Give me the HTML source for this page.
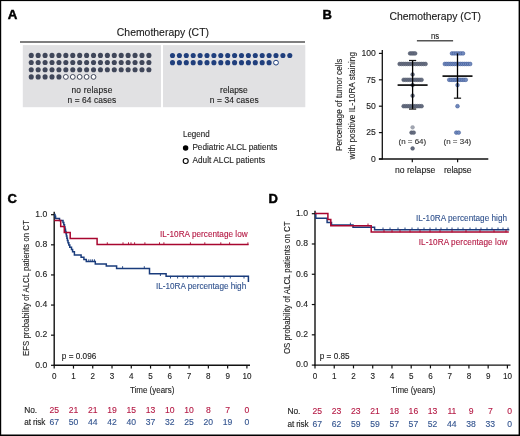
<!DOCTYPE html>
<html><head><meta charset="utf-8"><style>
html,body{margin:0;padding:0;background:#fff;}
svg{display:block;will-change:transform;}
svg text{font-family:"Liberation Sans", sans-serif;}
</style></head><body>
<svg width="520" height="436" viewBox="0 0 520 436">
<rect width="520" height="436" fill="#fff"/>
<text x="7.8" y="18.6" font-size="13.3" fill="#000" font-weight="bold" stroke="#000" stroke-width="0.45">A</text>
<text x="162.9" y="36.2" font-size="10.4" fill="#1a1a1a" text-anchor="middle" textLength="92.2" lengthAdjust="spacing" stroke="#1a1a1a" stroke-width="0.12">Chemotherapy (CT)</text>
<line x1="20" y1="42.0" x2="305" y2="42.0" stroke="#555" stroke-width="1.5"/>
<rect x="22.8" y="45.1" width="138.2" height="62.1" fill="#e1e1e3"/>
<rect x="163" y="45.1" width="142.3" height="62.1" fill="#e1e1e3"/>
<circle cx="31.25" cy="55.40" r="2.55" fill="#40475a"/>
<circle cx="38.17" cy="55.40" r="2.55" fill="#40475a"/>
<circle cx="45.09" cy="55.40" r="2.55" fill="#40475a"/>
<circle cx="52.01" cy="55.40" r="2.55" fill="#40475a"/>
<circle cx="58.93" cy="55.40" r="2.55" fill="#40475a"/>
<circle cx="65.85" cy="55.40" r="2.55" fill="#40475a"/>
<circle cx="72.77" cy="55.40" r="2.55" fill="#40475a"/>
<circle cx="79.69" cy="55.40" r="2.55" fill="#40475a"/>
<circle cx="86.61" cy="55.40" r="2.55" fill="#40475a"/>
<circle cx="93.53" cy="55.40" r="2.55" fill="#40475a"/>
<circle cx="100.45" cy="55.40" r="2.55" fill="#40475a"/>
<circle cx="107.37" cy="55.40" r="2.55" fill="#40475a"/>
<circle cx="114.29" cy="55.40" r="2.55" fill="#40475a"/>
<circle cx="121.21" cy="55.40" r="2.55" fill="#40475a"/>
<circle cx="128.13" cy="55.40" r="2.55" fill="#40475a"/>
<circle cx="135.05" cy="55.40" r="2.55" fill="#40475a"/>
<circle cx="141.97" cy="55.40" r="2.55" fill="#40475a"/>
<circle cx="148.89" cy="55.40" r="2.55" fill="#40475a"/>
<circle cx="31.25" cy="62.57" r="2.55" fill="#40475a"/>
<circle cx="38.17" cy="62.57" r="2.55" fill="#40475a"/>
<circle cx="45.09" cy="62.57" r="2.55" fill="#40475a"/>
<circle cx="52.01" cy="62.57" r="2.55" fill="#40475a"/>
<circle cx="58.93" cy="62.57" r="2.55" fill="#40475a"/>
<circle cx="65.85" cy="62.57" r="2.55" fill="#40475a"/>
<circle cx="72.77" cy="62.57" r="2.55" fill="#40475a"/>
<circle cx="79.69" cy="62.57" r="2.55" fill="#40475a"/>
<circle cx="86.61" cy="62.57" r="2.55" fill="#40475a"/>
<circle cx="93.53" cy="62.57" r="2.55" fill="#40475a"/>
<circle cx="100.45" cy="62.57" r="2.55" fill="#40475a"/>
<circle cx="107.37" cy="62.57" r="2.55" fill="#40475a"/>
<circle cx="114.29" cy="62.57" r="2.55" fill="#40475a"/>
<circle cx="121.21" cy="62.57" r="2.55" fill="#40475a"/>
<circle cx="128.13" cy="62.57" r="2.55" fill="#40475a"/>
<circle cx="135.05" cy="62.57" r="2.55" fill="#40475a"/>
<circle cx="141.97" cy="62.57" r="2.55" fill="#40475a"/>
<circle cx="148.89" cy="62.57" r="2.55" fill="#40475a"/>
<circle cx="31.25" cy="69.74" r="2.55" fill="#40475a"/>
<circle cx="38.17" cy="69.74" r="2.55" fill="#40475a"/>
<circle cx="45.09" cy="69.74" r="2.55" fill="#40475a"/>
<circle cx="52.01" cy="69.74" r="2.55" fill="#40475a"/>
<circle cx="58.93" cy="69.74" r="2.55" fill="#40475a"/>
<circle cx="65.85" cy="69.74" r="2.55" fill="#40475a"/>
<circle cx="72.77" cy="69.74" r="2.55" fill="#40475a"/>
<circle cx="79.69" cy="69.74" r="2.55" fill="#40475a"/>
<circle cx="86.61" cy="69.74" r="2.55" fill="#40475a"/>
<circle cx="93.53" cy="69.74" r="2.55" fill="#40475a"/>
<circle cx="100.45" cy="69.74" r="2.55" fill="#40475a"/>
<circle cx="107.37" cy="69.74" r="2.55" fill="#40475a"/>
<circle cx="114.29" cy="69.74" r="2.55" fill="#40475a"/>
<circle cx="121.21" cy="69.74" r="2.55" fill="#40475a"/>
<circle cx="128.13" cy="69.74" r="2.55" fill="#40475a"/>
<circle cx="135.05" cy="69.74" r="2.55" fill="#40475a"/>
<circle cx="141.97" cy="69.74" r="2.55" fill="#40475a"/>
<circle cx="148.89" cy="69.74" r="2.55" fill="#40475a"/>
<circle cx="31.25" cy="76.91" r="2.55" fill="#40475a"/>
<circle cx="38.17" cy="76.91" r="2.55" fill="#40475a"/>
<circle cx="45.09" cy="76.91" r="2.55" fill="#40475a"/>
<circle cx="52.01" cy="76.91" r="2.55" fill="#40475a"/>
<circle cx="58.93" cy="76.91" r="2.55" fill="#40475a"/>
<circle cx="65.85" cy="76.91" r="2.4" fill="#fff" stroke="#40475a" stroke-width="1.0"/>
<circle cx="72.77" cy="76.91" r="2.4" fill="#fff" stroke="#40475a" stroke-width="1.0"/>
<circle cx="79.69" cy="76.91" r="2.4" fill="#fff" stroke="#40475a" stroke-width="1.0"/>
<circle cx="86.61" cy="76.91" r="2.4" fill="#fff" stroke="#40475a" stroke-width="1.0"/>
<circle cx="93.53" cy="76.91" r="2.4" fill="#fff" stroke="#40475a" stroke-width="1.0"/>
<circle cx="172.50" cy="55.50" r="2.55" fill="#203f7d"/>
<circle cx="179.40" cy="55.50" r="2.55" fill="#203f7d"/>
<circle cx="186.30" cy="55.50" r="2.55" fill="#203f7d"/>
<circle cx="193.20" cy="55.50" r="2.55" fill="#203f7d"/>
<circle cx="200.10" cy="55.50" r="2.55" fill="#203f7d"/>
<circle cx="207.00" cy="55.50" r="2.55" fill="#203f7d"/>
<circle cx="213.90" cy="55.50" r="2.55" fill="#203f7d"/>
<circle cx="220.80" cy="55.50" r="2.55" fill="#203f7d"/>
<circle cx="227.70" cy="55.50" r="2.55" fill="#203f7d"/>
<circle cx="234.60" cy="55.50" r="2.55" fill="#203f7d"/>
<circle cx="241.50" cy="55.50" r="2.55" fill="#203f7d"/>
<circle cx="248.40" cy="55.50" r="2.55" fill="#203f7d"/>
<circle cx="255.30" cy="55.50" r="2.55" fill="#203f7d"/>
<circle cx="262.20" cy="55.50" r="2.55" fill="#203f7d"/>
<circle cx="269.10" cy="55.50" r="2.55" fill="#203f7d"/>
<circle cx="276.00" cy="55.50" r="2.55" fill="#203f7d"/>
<circle cx="282.90" cy="55.50" r="2.55" fill="#203f7d"/>
<circle cx="289.80" cy="55.50" r="2.55" fill="#203f7d"/>
<circle cx="172.50" cy="62.65" r="2.55" fill="#203f7d"/>
<circle cx="179.40" cy="62.65" r="2.55" fill="#203f7d"/>
<circle cx="186.30" cy="62.65" r="2.55" fill="#203f7d"/>
<circle cx="193.20" cy="62.65" r="2.55" fill="#203f7d"/>
<circle cx="200.10" cy="62.65" r="2.55" fill="#203f7d"/>
<circle cx="207.00" cy="62.65" r="2.55" fill="#203f7d"/>
<circle cx="213.90" cy="62.65" r="2.55" fill="#203f7d"/>
<circle cx="220.80" cy="62.65" r="2.55" fill="#203f7d"/>
<circle cx="227.70" cy="62.65" r="2.55" fill="#203f7d"/>
<circle cx="234.60" cy="62.65" r="2.55" fill="#203f7d"/>
<circle cx="241.50" cy="62.65" r="2.55" fill="#203f7d"/>
<circle cx="248.40" cy="62.65" r="2.55" fill="#203f7d"/>
<circle cx="255.30" cy="62.65" r="2.55" fill="#203f7d"/>
<circle cx="262.20" cy="62.65" r="2.55" fill="#203f7d"/>
<circle cx="269.10" cy="62.65" r="2.55" fill="#203f7d"/>
<circle cx="276.00" cy="62.65" r="2.4" fill="#fff" stroke="#203f7d" stroke-width="1.0"/>
<text x="91.9" y="93.3" font-size="8.4" fill="#222" text-anchor="middle" textLength="40.8" lengthAdjust="spacing" stroke="#222" stroke-width="0.12">no relapse</text>
<text x="91.9" y="103.3" font-size="8.4" fill="#222" text-anchor="middle" textLength="48.8" lengthAdjust="spacing" stroke="#222" stroke-width="0.12">n = 64 cases</text>
<text x="233.9" y="93.3" font-size="8.4" fill="#222" text-anchor="middle" textLength="27.6" lengthAdjust="spacing" stroke="#222" stroke-width="0.12">relapse</text>
<text x="234.2" y="103.3" font-size="8.4" fill="#222" text-anchor="middle" textLength="48.8" lengthAdjust="spacing" stroke="#222" stroke-width="0.12">n = 34 cases</text>
<text x="183" y="136.8" font-size="8.6" fill="#222" textLength="26.6" lengthAdjust="spacingAndGlyphs" stroke="#222" stroke-width="0.12">Legend</text>
<circle cx="185.6" cy="148" r="2.75" fill="#000"/>
<text x="192.4" y="150.1" font-size="8.2" fill="#222" textLength="85" lengthAdjust="spacing" stroke="#222" stroke-width="0.12">Pediatric ALCL patients</text>
<circle cx="185.7" cy="161" r="2.5" fill="#fff" stroke="#000" stroke-width="1.1"/>
<text x="192.4" y="163.1" font-size="8.2" fill="#222" textLength="72.7" lengthAdjust="spacing" stroke="#222" stroke-width="0.12">Adult ALCL patients</text>
<text x="322.4" y="18.5" font-size="13" fill="#000" font-weight="bold" stroke="#000" stroke-width="0.45">B</text>
<text x="389.6" y="19.8" font-size="10.4" fill="#1a1a1a" textLength="91.4" lengthAdjust="spacing" stroke="#1a1a1a" stroke-width="0.12">Chemotherapy (CT)</text>
<text x="435" y="38.8" font-size="8.3" fill="#222" text-anchor="middle" textLength="8.2" lengthAdjust="spacingAndGlyphs" stroke="#222" stroke-width="0.12">ns</text>
<line x1="416.9" y1="40.7" x2="453.1" y2="40.7" stroke="#555" stroke-width="1.4"/>
<line x1="382.3" y1="50.0" x2="382.3" y2="159.6" stroke="#111" stroke-width="1.3"/>
<line x1="378.9" y1="159.0" x2="488.3" y2="159.0" stroke="#111" stroke-width="1.3"/>
<line x1="378.9" y1="159.0" x2="382.3" y2="159.0" stroke="#111" stroke-width="1.2"/>
<text x="375.9" y="161.7" font-size="8.8" fill="#222" text-anchor="end" textLength="4.8" lengthAdjust="spacingAndGlyphs" stroke="#222" stroke-width="0.12">0</text>
<line x1="378.9" y1="132.6" x2="382.3" y2="132.6" stroke="#111" stroke-width="1.2"/>
<text x="375.9" y="135.29999999999998" font-size="8.8" fill="#222" text-anchor="end" textLength="9.6" lengthAdjust="spacingAndGlyphs" stroke="#222" stroke-width="0.12">25</text>
<line x1="378.9" y1="106.19999999999999" x2="382.3" y2="106.19999999999999" stroke="#111" stroke-width="1.2"/>
<text x="375.9" y="108.89999999999999" font-size="8.8" fill="#222" text-anchor="end" textLength="9.6" lengthAdjust="spacingAndGlyphs" stroke="#222" stroke-width="0.12">50</text>
<line x1="378.9" y1="79.8" x2="382.3" y2="79.8" stroke="#111" stroke-width="1.2"/>
<text x="375.9" y="82.5" font-size="8.8" fill="#222" text-anchor="end" textLength="9.6" lengthAdjust="spacingAndGlyphs" stroke="#222" stroke-width="0.12">75</text>
<line x1="378.9" y1="53.39999999999999" x2="382.3" y2="53.39999999999999" stroke="#111" stroke-width="1.2"/>
<text x="375.9" y="56.099999999999994" font-size="8.8" fill="#222" text-anchor="end" textLength="14.4" lengthAdjust="spacingAndGlyphs" stroke="#222" stroke-width="0.12">100</text>
<line x1="412.3" y1="159.0" x2="412.3" y2="162.3" stroke="#111" stroke-width="1.2"/>
<line x1="457.6" y1="159.0" x2="457.6" y2="162.3" stroke="#111" stroke-width="1.2"/>
<text x="415.1" y="172.8" font-size="8.6" fill="#222" text-anchor="middle" textLength="40.4" lengthAdjust="spacing" stroke="#222" stroke-width="0.12">no relapse</text>
<text x="457.75" y="172.8" font-size="8.6" fill="#222" text-anchor="middle" textLength="27.5" lengthAdjust="spacing" stroke="#222" stroke-width="0.12">relapse</text>
<g transform="translate(342.2,104.8) rotate(-90)">
<text x="0" y="0" font-size="9.0" fill="#222" text-anchor="middle" textLength="92.5" lengthAdjust="spacingAndGlyphs" stroke="#222" stroke-width="0.12">Percentage of tumor cells</text>
</g>
<g transform="translate(354.6,105.7) rotate(-90)">
<text x="0" y="0" font-size="9.0" fill="#222" text-anchor="middle" textLength="107.4" lengthAdjust="spacingAndGlyphs" stroke="#222" stroke-width="0.12">with positive IL-10RA staining</text>
</g>
<circle cx="410.05" cy="53.40" r="1.9" fill="#656c7f" opacity="1" stroke="#4d5467" stroke-width="0.45"/>
<circle cx="411.75" cy="53.40" r="1.9" fill="#656c7f" opacity="1" stroke="#4d5467" stroke-width="0.45"/>
<circle cx="413.45" cy="53.40" r="1.9" fill="#656c7f" opacity="1" stroke="#4d5467" stroke-width="0.45"/>
<circle cx="415.15" cy="53.40" r="1.9" fill="#656c7f" opacity="1" stroke="#4d5467" stroke-width="0.45"/>
<circle cx="399.60" cy="63.96" r="1.9" fill="#656c7f" opacity="1" stroke="#4d5467" stroke-width="0.45"/>
<circle cx="401.60" cy="63.96" r="1.9" fill="#656c7f" opacity="1" stroke="#4d5467" stroke-width="0.45"/>
<circle cx="403.60" cy="63.96" r="1.9" fill="#656c7f" opacity="1" stroke="#4d5467" stroke-width="0.45"/>
<circle cx="405.60" cy="63.96" r="1.9" fill="#656c7f" opacity="1" stroke="#4d5467" stroke-width="0.45"/>
<circle cx="407.60" cy="63.96" r="1.9" fill="#656c7f" opacity="1" stroke="#4d5467" stroke-width="0.45"/>
<circle cx="409.60" cy="63.96" r="1.9" fill="#656c7f" opacity="1" stroke="#4d5467" stroke-width="0.45"/>
<circle cx="411.60" cy="63.96" r="1.9" fill="#656c7f" opacity="1" stroke="#4d5467" stroke-width="0.45"/>
<circle cx="413.60" cy="63.96" r="1.9" fill="#656c7f" opacity="1" stroke="#4d5467" stroke-width="0.45"/>
<circle cx="415.60" cy="63.96" r="1.9" fill="#656c7f" opacity="1" stroke="#4d5467" stroke-width="0.45"/>
<circle cx="417.60" cy="63.96" r="1.9" fill="#656c7f" opacity="1" stroke="#4d5467" stroke-width="0.45"/>
<circle cx="419.60" cy="63.96" r="1.9" fill="#656c7f" opacity="1" stroke="#4d5467" stroke-width="0.45"/>
<circle cx="421.60" cy="63.96" r="1.9" fill="#656c7f" opacity="1" stroke="#4d5467" stroke-width="0.45"/>
<circle cx="423.60" cy="63.96" r="1.9" fill="#656c7f" opacity="1" stroke="#4d5467" stroke-width="0.45"/>
<circle cx="425.60" cy="63.96" r="1.9" fill="#656c7f" opacity="1" stroke="#4d5467" stroke-width="0.45"/>
<circle cx="412.60" cy="74.52" r="1.9" fill="#656c7f" opacity="1" stroke="#4d5467" stroke-width="0.45"/>
<circle cx="403.60" cy="79.80" r="1.9" fill="#656c7f" opacity="1" stroke="#4d5467" stroke-width="0.45"/>
<circle cx="405.60" cy="79.80" r="1.9" fill="#656c7f" opacity="1" stroke="#4d5467" stroke-width="0.45"/>
<circle cx="407.60" cy="79.80" r="1.9" fill="#656c7f" opacity="1" stroke="#4d5467" stroke-width="0.45"/>
<circle cx="409.60" cy="79.80" r="1.9" fill="#656c7f" opacity="1" stroke="#4d5467" stroke-width="0.45"/>
<circle cx="411.60" cy="79.80" r="1.9" fill="#656c7f" opacity="1" stroke="#4d5467" stroke-width="0.45"/>
<circle cx="413.60" cy="79.80" r="1.9" fill="#656c7f" opacity="1" stroke="#4d5467" stroke-width="0.45"/>
<circle cx="415.60" cy="79.80" r="1.9" fill="#656c7f" opacity="1" stroke="#4d5467" stroke-width="0.45"/>
<circle cx="417.60" cy="79.80" r="1.9" fill="#656c7f" opacity="1" stroke="#4d5467" stroke-width="0.45"/>
<circle cx="419.60" cy="79.80" r="1.9" fill="#656c7f" opacity="1" stroke="#4d5467" stroke-width="0.45"/>
<circle cx="421.60" cy="79.80" r="1.9" fill="#656c7f" opacity="1" stroke="#4d5467" stroke-width="0.45"/>
<circle cx="412.60" cy="85.08" r="1.9" fill="#656c7f" opacity="1" stroke="#4d5467" stroke-width="0.45"/>
<circle cx="412.60" cy="95.64" r="1.9" fill="#656c7f" opacity="1" stroke="#4d5467" stroke-width="0.45"/>
<circle cx="403.60" cy="106.20" r="1.9" fill="#656c7f" opacity="1" stroke="#4d5467" stroke-width="0.45"/>
<circle cx="405.60" cy="106.20" r="1.9" fill="#656c7f" opacity="1" stroke="#4d5467" stroke-width="0.45"/>
<circle cx="407.60" cy="106.20" r="1.9" fill="#656c7f" opacity="1" stroke="#4d5467" stroke-width="0.45"/>
<circle cx="409.60" cy="106.20" r="1.9" fill="#656c7f" opacity="1" stroke="#4d5467" stroke-width="0.45"/>
<circle cx="411.60" cy="106.20" r="1.9" fill="#656c7f" opacity="1" stroke="#4d5467" stroke-width="0.45"/>
<circle cx="413.60" cy="106.20" r="1.9" fill="#656c7f" opacity="1" stroke="#4d5467" stroke-width="0.45"/>
<circle cx="415.60" cy="106.20" r="1.9" fill="#656c7f" opacity="1" stroke="#4d5467" stroke-width="0.45"/>
<circle cx="417.60" cy="106.20" r="1.9" fill="#656c7f" opacity="1" stroke="#4d5467" stroke-width="0.45"/>
<circle cx="419.60" cy="106.20" r="1.9" fill="#656c7f" opacity="1" stroke="#4d5467" stroke-width="0.45"/>
<circle cx="421.60" cy="106.20" r="1.9" fill="#656c7f" opacity="1" stroke="#4d5467" stroke-width="0.45"/>
<circle cx="412.60" cy="127.32" r="1.9" fill="#656c7f" opacity="0.6" stroke="#4d5467" stroke-width="0.45"/>
<circle cx="411.50" cy="132.60" r="1.9" fill="#656c7f" opacity="1" stroke="#4d5467" stroke-width="0.45"/>
<circle cx="413.70" cy="132.60" r="1.9" fill="#656c7f" opacity="1" stroke="#4d5467" stroke-width="0.45"/>
<circle cx="412.60" cy="148.44" r="1.9" fill="#656c7f" opacity="1" stroke="#4d5467" stroke-width="0.45"/>
<circle cx="452.00" cy="53.40" r="1.9" fill="#728abd" opacity="1" stroke="#2f4d8c" stroke-width="0.45"/>
<circle cx="454.20" cy="53.40" r="1.9" fill="#728abd" opacity="1" stroke="#2f4d8c" stroke-width="0.45"/>
<circle cx="456.40" cy="53.40" r="1.9" fill="#728abd" opacity="1" stroke="#2f4d8c" stroke-width="0.45"/>
<circle cx="458.60" cy="53.40" r="1.9" fill="#728abd" opacity="1" stroke="#2f4d8c" stroke-width="0.45"/>
<circle cx="460.80" cy="53.40" r="1.9" fill="#728abd" opacity="1" stroke="#2f4d8c" stroke-width="0.45"/>
<circle cx="463.00" cy="53.40" r="1.9" fill="#728abd" opacity="1" stroke="#2f4d8c" stroke-width="0.45"/>
<circle cx="444.82" cy="63.96" r="1.9" fill="#728abd" opacity="1" stroke="#2f4d8c" stroke-width="0.45"/>
<circle cx="446.77" cy="63.96" r="1.9" fill="#728abd" opacity="1" stroke="#2f4d8c" stroke-width="0.45"/>
<circle cx="448.72" cy="63.96" r="1.9" fill="#728abd" opacity="1" stroke="#2f4d8c" stroke-width="0.45"/>
<circle cx="450.68" cy="63.96" r="1.9" fill="#728abd" opacity="1" stroke="#2f4d8c" stroke-width="0.45"/>
<circle cx="452.62" cy="63.96" r="1.9" fill="#728abd" opacity="1" stroke="#2f4d8c" stroke-width="0.45"/>
<circle cx="454.57" cy="63.96" r="1.9" fill="#728abd" opacity="1" stroke="#2f4d8c" stroke-width="0.45"/>
<circle cx="456.52" cy="63.96" r="1.9" fill="#728abd" opacity="1" stroke="#2f4d8c" stroke-width="0.45"/>
<circle cx="458.47" cy="63.96" r="1.9" fill="#728abd" opacity="1" stroke="#2f4d8c" stroke-width="0.45"/>
<circle cx="460.43" cy="63.96" r="1.9" fill="#728abd" opacity="1" stroke="#2f4d8c" stroke-width="0.45"/>
<circle cx="462.38" cy="63.96" r="1.9" fill="#728abd" opacity="1" stroke="#2f4d8c" stroke-width="0.45"/>
<circle cx="464.32" cy="63.96" r="1.9" fill="#728abd" opacity="1" stroke="#2f4d8c" stroke-width="0.45"/>
<circle cx="466.27" cy="63.96" r="1.9" fill="#728abd" opacity="1" stroke="#2f4d8c" stroke-width="0.45"/>
<circle cx="468.22" cy="63.96" r="1.9" fill="#728abd" opacity="1" stroke="#2f4d8c" stroke-width="0.45"/>
<circle cx="470.18" cy="63.96" r="1.9" fill="#728abd" opacity="1" stroke="#2f4d8c" stroke-width="0.45"/>
<circle cx="449.22" cy="79.80" r="1.9" fill="#728abd" opacity="1" stroke="#2f4d8c" stroke-width="0.45"/>
<circle cx="451.06" cy="79.80" r="1.9" fill="#728abd" opacity="1" stroke="#2f4d8c" stroke-width="0.45"/>
<circle cx="452.90" cy="79.80" r="1.9" fill="#728abd" opacity="1" stroke="#2f4d8c" stroke-width="0.45"/>
<circle cx="454.74" cy="79.80" r="1.9" fill="#728abd" opacity="1" stroke="#2f4d8c" stroke-width="0.45"/>
<circle cx="456.58" cy="79.80" r="1.9" fill="#728abd" opacity="1" stroke="#2f4d8c" stroke-width="0.45"/>
<circle cx="458.42" cy="79.80" r="1.9" fill="#728abd" opacity="1" stroke="#2f4d8c" stroke-width="0.45"/>
<circle cx="460.26" cy="79.80" r="1.9" fill="#728abd" opacity="1" stroke="#2f4d8c" stroke-width="0.45"/>
<circle cx="462.10" cy="79.80" r="1.9" fill="#728abd" opacity="1" stroke="#2f4d8c" stroke-width="0.45"/>
<circle cx="463.94" cy="79.80" r="1.9" fill="#728abd" opacity="1" stroke="#2f4d8c" stroke-width="0.45"/>
<circle cx="465.78" cy="79.80" r="1.9" fill="#728abd" opacity="1" stroke="#2f4d8c" stroke-width="0.45"/>
<circle cx="457.50" cy="85.08" r="1.9" fill="#728abd" opacity="1" stroke="#2f4d8c" stroke-width="0.45"/>
<circle cx="457.50" cy="106.20" r="1.9" fill="#728abd" opacity="1" stroke="#2f4d8c" stroke-width="0.45"/>
<circle cx="456.30" cy="132.60" r="1.9" fill="#728abd" opacity="1" stroke="#2f4d8c" stroke-width="0.45"/>
<circle cx="458.70" cy="132.60" r="1.9" fill="#728abd" opacity="1" stroke="#2f4d8c" stroke-width="0.45"/>
<line x1="412.6" y1="60.4752" x2="412.6" y2="109.0512" stroke="#000" stroke-width="1.3"/>
<line x1="397.6" y1="85.08" x2="427.6" y2="85.08" stroke="#000" stroke-width="1.6"/>
<line x1="409.0" y1="60.4752" x2="416.20000000000005" y2="60.4752" stroke="#111" stroke-width="1.2"/>
<line x1="409.0" y1="109.0512" x2="416.20000000000005" y2="109.0512" stroke="#111" stroke-width="1.2"/>
<line x1="457.5" y1="53.39999999999999" x2="457.5" y2="98.17439999999999" stroke="#000" stroke-width="1.3"/>
<line x1="442.5" y1="76.104" x2="472.5" y2="76.104" stroke="#000" stroke-width="1.6"/>
<line x1="453.9" y1="98.17439999999999" x2="461.1" y2="98.17439999999999" stroke="#111" stroke-width="1.2"/>
<text x="412.35" y="144.2" font-size="7.2" fill="#333" text-anchor="middle" textLength="27.7" lengthAdjust="spacingAndGlyphs" stroke="#333" stroke-width="0.12">(n = 64)</text>
<text x="457.4" y="144.2" font-size="7.2" fill="#333" text-anchor="middle" textLength="27.7" lengthAdjust="spacingAndGlyphs" stroke="#333" stroke-width="0.12">(n = 34)</text>
<text x="7.6" y="202.9" font-size="13" fill="#000" font-weight="bold" stroke="#000" stroke-width="0.45">C</text>
<line x1="54.2" y1="211.7" x2="54.2" y2="365.90000000000003" stroke="#111" stroke-width="1.4"/>
<line x1="53.6" y1="365.3" x2="249.99999999999997" y2="365.3" stroke="#111" stroke-width="1.4"/>
<line x1="51.0" y1="365.3" x2="54.2" y2="365.3" stroke="#111" stroke-width="1.2"/>
<text x="47.2" y="367.6" font-size="8.8" fill="#222" text-anchor="end" textLength="12.0" lengthAdjust="spacingAndGlyphs" stroke="#222" stroke-width="0.12">0.0</text>
<line x1="51.0" y1="335.18" x2="54.2" y2="335.18" stroke="#111" stroke-width="1.2"/>
<text x="47.2" y="337.48" font-size="8.8" fill="#222" text-anchor="end" textLength="12.0" lengthAdjust="spacingAndGlyphs" stroke="#222" stroke-width="0.12">0.2</text>
<line x1="51.0" y1="305.06" x2="54.2" y2="305.06" stroke="#111" stroke-width="1.2"/>
<text x="47.2" y="307.36" font-size="8.8" fill="#222" text-anchor="end" textLength="12.0" lengthAdjust="spacingAndGlyphs" stroke="#222" stroke-width="0.12">0.4</text>
<line x1="51.0" y1="274.94" x2="54.2" y2="274.94" stroke="#111" stroke-width="1.2"/>
<text x="47.2" y="277.24" font-size="8.8" fill="#222" text-anchor="end" textLength="12.0" lengthAdjust="spacingAndGlyphs" stroke="#222" stroke-width="0.12">0.6</text>
<line x1="51.0" y1="244.82" x2="54.2" y2="244.82" stroke="#111" stroke-width="1.2"/>
<text x="47.2" y="247.12" font-size="8.8" fill="#222" text-anchor="end" textLength="12.0" lengthAdjust="spacingAndGlyphs" stroke="#222" stroke-width="0.12">0.8</text>
<line x1="51.0" y1="214.7" x2="54.2" y2="214.7" stroke="#111" stroke-width="1.2"/>
<text x="47.2" y="217.0" font-size="8.8" fill="#222" text-anchor="end" textLength="12.0" lengthAdjust="spacingAndGlyphs" stroke="#222" stroke-width="0.12">1.0</text>
<line x1="54.2" y1="365.3" x2="54.2" y2="368.6" stroke="#111" stroke-width="1.2"/>
<text x="54.2" y="379.0" font-size="8.6" fill="#222" text-anchor="middle" textLength="4.5" lengthAdjust="spacingAndGlyphs" stroke="#222" stroke-width="0.12">0</text>
<line x1="73.47" y1="365.3" x2="73.47" y2="368.6" stroke="#111" stroke-width="1.2"/>
<text x="73.47" y="379.0" font-size="8.6" fill="#222" text-anchor="middle" textLength="4.5" lengthAdjust="spacingAndGlyphs" stroke="#222" stroke-width="0.12">1</text>
<line x1="92.74000000000001" y1="365.3" x2="92.74000000000001" y2="368.6" stroke="#111" stroke-width="1.2"/>
<text x="92.74000000000001" y="379.0" font-size="8.6" fill="#222" text-anchor="middle" textLength="4.5" lengthAdjust="spacingAndGlyphs" stroke="#222" stroke-width="0.12">2</text>
<line x1="112.01" y1="365.3" x2="112.01" y2="368.6" stroke="#111" stroke-width="1.2"/>
<text x="112.01" y="379.0" font-size="8.6" fill="#222" text-anchor="middle" textLength="4.5" lengthAdjust="spacingAndGlyphs" stroke="#222" stroke-width="0.12">3</text>
<line x1="131.28" y1="365.3" x2="131.28" y2="368.6" stroke="#111" stroke-width="1.2"/>
<text x="131.28" y="379.0" font-size="8.6" fill="#222" text-anchor="middle" textLength="4.5" lengthAdjust="spacingAndGlyphs" stroke="#222" stroke-width="0.12">4</text>
<line x1="150.55" y1="365.3" x2="150.55" y2="368.6" stroke="#111" stroke-width="1.2"/>
<text x="150.55" y="379.0" font-size="8.6" fill="#222" text-anchor="middle" textLength="4.5" lengthAdjust="spacingAndGlyphs" stroke="#222" stroke-width="0.12">5</text>
<line x1="169.82" y1="365.3" x2="169.82" y2="368.6" stroke="#111" stroke-width="1.2"/>
<text x="169.82" y="379.0" font-size="8.6" fill="#222" text-anchor="middle" textLength="4.5" lengthAdjust="spacingAndGlyphs" stroke="#222" stroke-width="0.12">6</text>
<line x1="189.08999999999997" y1="365.3" x2="189.08999999999997" y2="368.6" stroke="#111" stroke-width="1.2"/>
<text x="189.08999999999997" y="379.0" font-size="8.6" fill="#222" text-anchor="middle" textLength="4.5" lengthAdjust="spacingAndGlyphs" stroke="#222" stroke-width="0.12">7</text>
<line x1="208.36" y1="365.3" x2="208.36" y2="368.6" stroke="#111" stroke-width="1.2"/>
<text x="208.36" y="379.0" font-size="8.6" fill="#222" text-anchor="middle" textLength="4.5" lengthAdjust="spacingAndGlyphs" stroke="#222" stroke-width="0.12">8</text>
<line x1="227.63" y1="365.3" x2="227.63" y2="368.6" stroke="#111" stroke-width="1.2"/>
<text x="227.63" y="379.0" font-size="8.6" fill="#222" text-anchor="middle" textLength="4.5" lengthAdjust="spacingAndGlyphs" stroke="#222" stroke-width="0.12">9</text>
<line x1="246.89999999999998" y1="365.3" x2="246.89999999999998" y2="368.6" stroke="#111" stroke-width="1.2"/>
<text x="246.89999999999998" y="379.0" font-size="8.6" fill="#222" text-anchor="middle" textLength="9.0" lengthAdjust="spacingAndGlyphs" stroke="#222" stroke-width="0.12">10</text>
<text x="152.2" y="393.2" font-size="9" fill="#222" text-anchor="middle" textLength="44.4" lengthAdjust="spacingAndGlyphs" stroke="#222" stroke-width="0.12">Time (years)</text>
<g transform="translate(28.8,288.1) rotate(-90)">
<text x="0" y="0" font-size="8.8" fill="#222" text-anchor="middle" textLength="135.6" lengthAdjust="spacingAndGlyphs" stroke="#222" stroke-width="0.12">EFS probability of ALCL patients on CT</text>
</g>
<text x="61.8" y="358.7" font-size="8.2" fill="#222" textLength="34.5" lengthAdjust="spacing" stroke="#222" stroke-width="0.12">p = 0.096</text>
<path d="M54.20,214.40 L55.00,214.40 L55.00,216.20 L55.60,216.20 L55.60,218.40 L59.50,218.40 L59.50,220.40 L63.00,220.40 L63.00,222.60 L63.80,222.60 L63.80,224.80 L64.50,224.80 L64.50,227.00 L65.00,227.00 L65.00,229.30 L65.50,229.30 L65.50,231.50 L66.00,231.50 L66.00,233.80 L66.40,233.80 L66.40,236.00 L66.90,236.00 L66.90,238.30 L67.40,238.30 L67.40,240.50 L68.00,240.50 L68.00,242.80 L68.80,242.80 L68.80,245.00 L69.80,245.00 L69.80,247.30 L71.50,247.30 L71.50,249.50 L72.60,249.50 L72.60,251.80 L74.40,251.80 L74.40,254.90 L81.10,254.90 L81.10,257.20 L83.90,257.20 L83.90,259.60 L86.30,259.60 L86.30,261.60 L95.30,261.60 L95.30,264.00 L106.30,264.00 L106.30,266.10 L116.60,266.10 L116.60,268.50 L149.50,268.50 L149.50,273.70 L166.10,273.70 L166.10,276.20 L248.40,276.20 L248.40,282.10" fill="none" stroke="#1a3c7c" stroke-width="1.5" stroke-linejoin="miter"/>
<line x1="88.8" y1="259.3" x2="88.8" y2="261.90000000000003" stroke="#1a3c7c" stroke-width="0.9"/>
<line x1="90.8" y1="259.3" x2="90.8" y2="261.90000000000003" stroke="#1a3c7c" stroke-width="0.9"/>
<line x1="92.6" y1="259.3" x2="92.6" y2="261.90000000000003" stroke="#1a3c7c" stroke-width="0.9"/>
<line x1="94.5" y1="259.3" x2="94.5" y2="261.90000000000003" stroke="#1a3c7c" stroke-width="0.9"/>
<line x1="122.6" y1="266.2" x2="122.6" y2="268.8" stroke="#1a3c7c" stroke-width="0.9"/>
<line x1="144.3" y1="266.2" x2="144.3" y2="268.8" stroke="#1a3c7c" stroke-width="0.9"/>
<line x1="160.4" y1="273.4" x2="160.4" y2="276.0" stroke="#1a3c7c" stroke-width="0.9"/>
<line x1="170.5" y1="275.9" x2="170.5" y2="278.5" stroke="#1a3c7c" stroke-width="0.9"/>
<line x1="177.6" y1="275.9" x2="177.6" y2="278.5" stroke="#1a3c7c" stroke-width="0.9"/>
<line x1="183.1" y1="275.9" x2="183.1" y2="278.5" stroke="#1a3c7c" stroke-width="0.9"/>
<line x1="187.6" y1="275.9" x2="187.6" y2="278.5" stroke="#1a3c7c" stroke-width="0.9"/>
<line x1="193.1" y1="275.9" x2="193.1" y2="278.5" stroke="#1a3c7c" stroke-width="0.9"/>
<line x1="198.0" y1="275.9" x2="198.0" y2="278.5" stroke="#1a3c7c" stroke-width="0.9"/>
<line x1="204.2" y1="275.9" x2="204.2" y2="278.5" stroke="#1a3c7c" stroke-width="0.9"/>
<line x1="224.0" y1="275.9" x2="224.0" y2="278.5" stroke="#1a3c7c" stroke-width="0.9"/>
<line x1="230.3" y1="275.9" x2="230.3" y2="278.5" stroke="#1a3c7c" stroke-width="0.9"/>
<line x1="244.0" y1="275.9" x2="244.0" y2="278.5" stroke="#1a3c7c" stroke-width="0.9"/>
<path d="M54.20,220.40 L60.70,220.40 L60.70,226.60 L64.30,226.60 L64.30,232.60 L70.20,232.60 L70.20,238.50 L97.10,238.50 L97.10,244.60 L248.60,244.60 L248.60,244.60" fill="none" stroke="#a8062f" stroke-width="1.5" stroke-linejoin="miter"/>
<line x1="107.3" y1="242.29999999999998" x2="107.3" y2="244.9" stroke="#a8062f" stroke-width="0.9"/>
<line x1="123" y1="242.29999999999998" x2="123" y2="244.9" stroke="#a8062f" stroke-width="0.9"/>
<line x1="128.5" y1="242.29999999999998" x2="128.5" y2="244.9" stroke="#a8062f" stroke-width="0.9"/>
<line x1="131" y1="242.29999999999998" x2="131" y2="244.9" stroke="#a8062f" stroke-width="0.9"/>
<line x1="134.6" y1="242.29999999999998" x2="134.6" y2="244.9" stroke="#a8062f" stroke-width="0.9"/>
<line x1="144.9" y1="242.29999999999998" x2="144.9" y2="244.9" stroke="#a8062f" stroke-width="0.9"/>
<line x1="159.5" y1="242.29999999999998" x2="159.5" y2="244.9" stroke="#a8062f" stroke-width="0.9"/>
<line x1="163.9" y1="242.29999999999998" x2="163.9" y2="244.9" stroke="#a8062f" stroke-width="0.9"/>
<line x1="190.4" y1="242.29999999999998" x2="190.4" y2="244.9" stroke="#a8062f" stroke-width="0.9"/>
<line x1="204.8" y1="242.29999999999998" x2="204.8" y2="244.9" stroke="#a8062f" stroke-width="0.9"/>
<line x1="220.8" y1="242.29999999999998" x2="220.8" y2="244.9" stroke="#a8062f" stroke-width="0.9"/>
<line x1="229.6" y1="242.29999999999998" x2="229.6" y2="244.9" stroke="#a8062f" stroke-width="0.9"/>
<line x1="247.9" y1="242.29999999999998" x2="247.9" y2="244.9" stroke="#a8062f" stroke-width="0.9"/>
<text x="159.9" y="237.2" font-size="8.2" fill="#b51a45" textLength="87.8" lengthAdjust="spacing" stroke="#b51a45" stroke-width="0.12">IL-10RA percentage low</text>
<text x="155.9" y="289.2" font-size="8.2" fill="#33548f" textLength="90.3" lengthAdjust="spacing" stroke="#33548f" stroke-width="0.12">IL-10RA percentage high</text>
<text x="24.3" y="412.6" font-size="8.4" fill="#222" textLength="12.9" lengthAdjust="spacing" stroke="#222" stroke-width="0.12">No.</text>
<text x="24.3" y="425.4" font-size="8.2" fill="#222" textLength="21.0" lengthAdjust="spacing" stroke="#222" stroke-width="0.12">at risk</text>
<text x="54.2" y="412.6" font-size="8.6" fill="#b51a45" text-anchor="middle" stroke="#b51a45" stroke-width="0.12">25</text>
<text x="54.2" y="425.4" font-size="8.6" fill="#33548f" text-anchor="middle" stroke="#33548f" stroke-width="0.12">67</text>
<text x="73.47" y="412.6" font-size="8.6" fill="#b51a45" text-anchor="middle" stroke="#b51a45" stroke-width="0.12">21</text>
<text x="73.47" y="425.4" font-size="8.6" fill="#33548f" text-anchor="middle" stroke="#33548f" stroke-width="0.12">50</text>
<text x="92.74000000000001" y="412.6" font-size="8.6" fill="#b51a45" text-anchor="middle" stroke="#b51a45" stroke-width="0.12">21</text>
<text x="92.74000000000001" y="425.4" font-size="8.6" fill="#33548f" text-anchor="middle" stroke="#33548f" stroke-width="0.12">44</text>
<text x="112.01" y="412.6" font-size="8.6" fill="#b51a45" text-anchor="middle" stroke="#b51a45" stroke-width="0.12">19</text>
<text x="112.01" y="425.4" font-size="8.6" fill="#33548f" text-anchor="middle" stroke="#33548f" stroke-width="0.12">42</text>
<text x="131.28" y="412.6" font-size="8.6" fill="#b51a45" text-anchor="middle" stroke="#b51a45" stroke-width="0.12">15</text>
<text x="131.28" y="425.4" font-size="8.6" fill="#33548f" text-anchor="middle" stroke="#33548f" stroke-width="0.12">40</text>
<text x="150.55" y="412.6" font-size="8.6" fill="#b51a45" text-anchor="middle" stroke="#b51a45" stroke-width="0.12">13</text>
<text x="150.55" y="425.4" font-size="8.6" fill="#33548f" text-anchor="middle" stroke="#33548f" stroke-width="0.12">37</text>
<text x="169.82" y="412.6" font-size="8.6" fill="#b51a45" text-anchor="middle" stroke="#b51a45" stroke-width="0.12">10</text>
<text x="169.82" y="425.4" font-size="8.6" fill="#33548f" text-anchor="middle" stroke="#33548f" stroke-width="0.12">32</text>
<text x="189.08999999999997" y="412.6" font-size="8.6" fill="#b51a45" text-anchor="middle" stroke="#b51a45" stroke-width="0.12">10</text>
<text x="189.08999999999997" y="425.4" font-size="8.6" fill="#33548f" text-anchor="middle" stroke="#33548f" stroke-width="0.12">25</text>
<text x="208.36" y="412.6" font-size="8.6" fill="#b51a45" text-anchor="middle" stroke="#b51a45" stroke-width="0.12">8</text>
<text x="208.36" y="425.4" font-size="8.6" fill="#33548f" text-anchor="middle" stroke="#33548f" stroke-width="0.12">20</text>
<text x="227.63" y="412.6" font-size="8.6" fill="#b51a45" text-anchor="middle" stroke="#b51a45" stroke-width="0.12">7</text>
<text x="227.63" y="425.4" font-size="8.6" fill="#33548f" text-anchor="middle" stroke="#33548f" stroke-width="0.12">19</text>
<text x="246.89999999999998" y="412.6" font-size="8.6" fill="#b51a45" text-anchor="middle" stroke="#b51a45" stroke-width="0.12">0</text>
<text x="246.89999999999998" y="425.4" font-size="8.6" fill="#33548f" text-anchor="middle" stroke="#33548f" stroke-width="0.12">0</text>
<text x="268.6" y="202.9" font-size="13" fill="#000" font-weight="bold" stroke="#000" stroke-width="0.45">D</text>
<line x1="315.0" y1="210.7" x2="315.0" y2="365.70000000000005" stroke="#111" stroke-width="1.4"/>
<line x1="314.4" y1="365.1" x2="510.5" y2="365.1" stroke="#111" stroke-width="1.4"/>
<line x1="311.8" y1="365.1" x2="315.0" y2="365.1" stroke="#111" stroke-width="1.2"/>
<text x="308.0" y="367.40000000000003" font-size="8.8" fill="#222" text-anchor="end" textLength="12.0" lengthAdjust="spacingAndGlyphs" stroke="#222" stroke-width="0.12">0.0</text>
<line x1="311.8" y1="334.82" x2="315.0" y2="334.82" stroke="#111" stroke-width="1.2"/>
<text x="308.0" y="337.12" font-size="8.8" fill="#222" text-anchor="end" textLength="12.0" lengthAdjust="spacingAndGlyphs" stroke="#222" stroke-width="0.12">0.2</text>
<line x1="311.8" y1="304.54" x2="315.0" y2="304.54" stroke="#111" stroke-width="1.2"/>
<text x="308.0" y="306.84000000000003" font-size="8.8" fill="#222" text-anchor="end" textLength="12.0" lengthAdjust="spacingAndGlyphs" stroke="#222" stroke-width="0.12">0.4</text>
<line x1="311.8" y1="274.26" x2="315.0" y2="274.26" stroke="#111" stroke-width="1.2"/>
<text x="308.0" y="276.56" font-size="8.8" fill="#222" text-anchor="end" textLength="12.0" lengthAdjust="spacingAndGlyphs" stroke="#222" stroke-width="0.12">0.6</text>
<line x1="311.8" y1="243.98" x2="315.0" y2="243.98" stroke="#111" stroke-width="1.2"/>
<text x="308.0" y="246.28" font-size="8.8" fill="#222" text-anchor="end" textLength="12.0" lengthAdjust="spacingAndGlyphs" stroke="#222" stroke-width="0.12">0.8</text>
<line x1="311.8" y1="213.7" x2="315.0" y2="213.7" stroke="#111" stroke-width="1.2"/>
<text x="308.0" y="216.0" font-size="8.8" fill="#222" text-anchor="end" textLength="12.0" lengthAdjust="spacingAndGlyphs" stroke="#222" stroke-width="0.12">1.0</text>
<line x1="315.0" y1="365.1" x2="315.0" y2="368.40000000000003" stroke="#111" stroke-width="1.2"/>
<text x="315.0" y="379.0" font-size="8.6" fill="#222" text-anchor="middle" textLength="4.5" lengthAdjust="spacingAndGlyphs" stroke="#222" stroke-width="0.12">0</text>
<line x1="334.24" y1="365.1" x2="334.24" y2="368.40000000000003" stroke="#111" stroke-width="1.2"/>
<text x="334.24" y="379.0" font-size="8.6" fill="#222" text-anchor="middle" textLength="4.5" lengthAdjust="spacingAndGlyphs" stroke="#222" stroke-width="0.12">1</text>
<line x1="353.48" y1="365.1" x2="353.48" y2="368.40000000000003" stroke="#111" stroke-width="1.2"/>
<text x="353.48" y="379.0" font-size="8.6" fill="#222" text-anchor="middle" textLength="4.5" lengthAdjust="spacingAndGlyphs" stroke="#222" stroke-width="0.12">2</text>
<line x1="372.72" y1="365.1" x2="372.72" y2="368.40000000000003" stroke="#111" stroke-width="1.2"/>
<text x="372.72" y="379.0" font-size="8.6" fill="#222" text-anchor="middle" textLength="4.5" lengthAdjust="spacingAndGlyphs" stroke="#222" stroke-width="0.12">3</text>
<line x1="391.96" y1="365.1" x2="391.96" y2="368.40000000000003" stroke="#111" stroke-width="1.2"/>
<text x="391.96" y="379.0" font-size="8.6" fill="#222" text-anchor="middle" textLength="4.5" lengthAdjust="spacingAndGlyphs" stroke="#222" stroke-width="0.12">4</text>
<line x1="411.2" y1="365.1" x2="411.2" y2="368.40000000000003" stroke="#111" stroke-width="1.2"/>
<text x="411.2" y="379.0" font-size="8.6" fill="#222" text-anchor="middle" textLength="4.5" lengthAdjust="spacingAndGlyphs" stroke="#222" stroke-width="0.12">5</text>
<line x1="430.44" y1="365.1" x2="430.44" y2="368.40000000000003" stroke="#111" stroke-width="1.2"/>
<text x="430.44" y="379.0" font-size="8.6" fill="#222" text-anchor="middle" textLength="4.5" lengthAdjust="spacingAndGlyphs" stroke="#222" stroke-width="0.12">6</text>
<line x1="449.67999999999995" y1="365.1" x2="449.67999999999995" y2="368.40000000000003" stroke="#111" stroke-width="1.2"/>
<text x="449.67999999999995" y="379.0" font-size="8.6" fill="#222" text-anchor="middle" textLength="4.5" lengthAdjust="spacingAndGlyphs" stroke="#222" stroke-width="0.12">7</text>
<line x1="468.91999999999996" y1="365.1" x2="468.91999999999996" y2="368.40000000000003" stroke="#111" stroke-width="1.2"/>
<text x="468.91999999999996" y="379.0" font-size="8.6" fill="#222" text-anchor="middle" textLength="4.5" lengthAdjust="spacingAndGlyphs" stroke="#222" stroke-width="0.12">8</text>
<line x1="488.15999999999997" y1="365.1" x2="488.15999999999997" y2="368.40000000000003" stroke="#111" stroke-width="1.2"/>
<text x="488.15999999999997" y="379.0" font-size="8.6" fill="#222" text-anchor="middle" textLength="4.5" lengthAdjust="spacingAndGlyphs" stroke="#222" stroke-width="0.12">9</text>
<line x1="507.4" y1="365.1" x2="507.4" y2="368.40000000000003" stroke="#111" stroke-width="1.2"/>
<text x="507.4" y="379.0" font-size="8.6" fill="#222" text-anchor="middle" textLength="9.0" lengthAdjust="spacingAndGlyphs" stroke="#222" stroke-width="0.12">10</text>
<text x="413.3" y="393.2" font-size="9" fill="#222" text-anchor="middle" textLength="44.4" lengthAdjust="spacingAndGlyphs" stroke="#222" stroke-width="0.12">Time (years)</text>
<g transform="translate(290.1,287.8) rotate(-90)">
<text x="0" y="0" font-size="8.8" fill="#222" text-anchor="middle" textLength="132.6" lengthAdjust="spacingAndGlyphs" stroke="#222" stroke-width="0.12">OS probability of ALCL patients on CT</text>
</g>
<text x="319.8" y="358.7" font-size="8.2" fill="#222" textLength="29.8" lengthAdjust="spacing" stroke="#222" stroke-width="0.12">p = 0.85</text>
<path d="M315.00,213.50 L315.80,213.50 L315.80,218.20 L327.10,218.20 L327.10,222.50 L331.50,222.50 L331.50,225.00 L353.00,225.00 L353.00,227.20 L374.60,227.20 L374.60,229.80 L509.30,229.80 L509.30,229.80" fill="none" stroke="#1a3c7c" stroke-width="1.5" stroke-linejoin="miter"/>
<line x1="350.4" y1="222.7" x2="350.4" y2="225.3" stroke="#1a3c7c" stroke-width="0.9"/>
<line x1="383" y1="227.5" x2="383" y2="230.10000000000002" stroke="#1a3c7c" stroke-width="0.9"/>
<line x1="390" y1="227.5" x2="390" y2="230.10000000000002" stroke="#1a3c7c" stroke-width="0.9"/>
<line x1="398" y1="227.5" x2="398" y2="230.10000000000002" stroke="#1a3c7c" stroke-width="0.9"/>
<line x1="405" y1="227.5" x2="405" y2="230.10000000000002" stroke="#1a3c7c" stroke-width="0.9"/>
<line x1="412" y1="227.5" x2="412" y2="230.10000000000002" stroke="#1a3c7c" stroke-width="0.9"/>
<line x1="418" y1="227.5" x2="418" y2="230.10000000000002" stroke="#1a3c7c" stroke-width="0.9"/>
<line x1="424" y1="227.5" x2="424" y2="230.10000000000002" stroke="#1a3c7c" stroke-width="0.9"/>
<line x1="430" y1="227.5" x2="430" y2="230.10000000000002" stroke="#1a3c7c" stroke-width="0.9"/>
<line x1="436" y1="227.5" x2="436" y2="230.10000000000002" stroke="#1a3c7c" stroke-width="0.9"/>
<line x1="441" y1="227.5" x2="441" y2="230.10000000000002" stroke="#1a3c7c" stroke-width="0.9"/>
<line x1="447" y1="227.5" x2="447" y2="230.10000000000002" stroke="#1a3c7c" stroke-width="0.9"/>
<line x1="452" y1="227.5" x2="452" y2="230.10000000000002" stroke="#1a3c7c" stroke-width="0.9"/>
<line x1="458" y1="227.5" x2="458" y2="230.10000000000002" stroke="#1a3c7c" stroke-width="0.9"/>
<line x1="463" y1="227.5" x2="463" y2="230.10000000000002" stroke="#1a3c7c" stroke-width="0.9"/>
<line x1="470" y1="227.5" x2="470" y2="230.10000000000002" stroke="#1a3c7c" stroke-width="0.9"/>
<line x1="476" y1="227.5" x2="476" y2="230.10000000000002" stroke="#1a3c7c" stroke-width="0.9"/>
<line x1="481" y1="227.5" x2="481" y2="230.10000000000002" stroke="#1a3c7c" stroke-width="0.9"/>
<line x1="487" y1="227.5" x2="487" y2="230.10000000000002" stroke="#1a3c7c" stroke-width="0.9"/>
<line x1="492" y1="227.5" x2="492" y2="230.10000000000002" stroke="#1a3c7c" stroke-width="0.9"/>
<line x1="498" y1="227.5" x2="498" y2="230.10000000000002" stroke="#1a3c7c" stroke-width="0.9"/>
<line x1="503" y1="227.5" x2="503" y2="230.10000000000002" stroke="#1a3c7c" stroke-width="0.9"/>
<line x1="508" y1="227.5" x2="508" y2="230.10000000000002" stroke="#1a3c7c" stroke-width="0.9"/>
<path d="M315.00,213.50 L327.90,213.50 L327.90,219.50 L330.80,219.50 L330.80,225.80 L371.20,225.80 L371.20,232.00 L508.80,232.00 L508.80,232.00" fill="none" stroke="#a8062f" stroke-width="1.5" stroke-linejoin="miter"/>
<line x1="368" y1="223.5" x2="368" y2="226.10000000000002" stroke="#a8062f" stroke-width="0.9"/>
<line x1="384" y1="229.7" x2="384" y2="232.3" stroke="#a8062f" stroke-width="0.9"/>
<line x1="392" y1="229.7" x2="392" y2="232.3" stroke="#a8062f" stroke-width="0.9"/>
<line x1="400" y1="229.7" x2="400" y2="232.3" stroke="#a8062f" stroke-width="0.9"/>
<line x1="410" y1="229.7" x2="410" y2="232.3" stroke="#a8062f" stroke-width="0.9"/>
<line x1="420" y1="229.7" x2="420" y2="232.3" stroke="#a8062f" stroke-width="0.9"/>
<line x1="430" y1="229.7" x2="430" y2="232.3" stroke="#a8062f" stroke-width="0.9"/>
<line x1="440" y1="229.7" x2="440" y2="232.3" stroke="#a8062f" stroke-width="0.9"/>
<line x1="452" y1="229.7" x2="452" y2="232.3" stroke="#a8062f" stroke-width="0.9"/>
<line x1="466" y1="229.7" x2="466" y2="232.3" stroke="#a8062f" stroke-width="0.9"/>
<line x1="480" y1="229.7" x2="480" y2="232.3" stroke="#a8062f" stroke-width="0.9"/>
<line x1="494" y1="229.7" x2="494" y2="232.3" stroke="#a8062f" stroke-width="0.9"/>
<line x1="506" y1="229.7" x2="506" y2="232.3" stroke="#a8062f" stroke-width="0.9"/>
<text x="416.0" y="220.6" font-size="8.2" fill="#33548f" textLength="91.1" lengthAdjust="spacing" stroke="#33548f" stroke-width="0.12">IL-10RA percentage high</text>
<text x="418.7" y="244.5" font-size="8.2" fill="#b51a45" textLength="88.8" lengthAdjust="spacing" stroke="#b51a45" stroke-width="0.12">IL-10RA percentage low</text>
<text x="287.5" y="413.8" font-size="8.4" fill="#222" textLength="12.9" lengthAdjust="spacing" stroke="#222" stroke-width="0.12">No.</text>
<text x="287.5" y="426.59999999999997" font-size="8.2" fill="#222" textLength="21.0" lengthAdjust="spacing" stroke="#222" stroke-width="0.12">at risk</text>
<text x="317.2" y="413.8" font-size="8.6" fill="#b51a45" text-anchor="middle" stroke="#b51a45" stroke-width="0.12">25</text>
<text x="317.2" y="426.59999999999997" font-size="8.6" fill="#33548f" text-anchor="middle" stroke="#33548f" stroke-width="0.12">67</text>
<text x="336.44" y="413.8" font-size="8.6" fill="#b51a45" text-anchor="middle" stroke="#b51a45" stroke-width="0.12">23</text>
<text x="336.44" y="426.59999999999997" font-size="8.6" fill="#33548f" text-anchor="middle" stroke="#33548f" stroke-width="0.12">62</text>
<text x="355.68" y="413.8" font-size="8.6" fill="#b51a45" text-anchor="middle" stroke="#b51a45" stroke-width="0.12">23</text>
<text x="355.68" y="426.59999999999997" font-size="8.6" fill="#33548f" text-anchor="middle" stroke="#33548f" stroke-width="0.12">59</text>
<text x="374.92" y="413.8" font-size="8.6" fill="#b51a45" text-anchor="middle" stroke="#b51a45" stroke-width="0.12">21</text>
<text x="374.92" y="426.59999999999997" font-size="8.6" fill="#33548f" text-anchor="middle" stroke="#33548f" stroke-width="0.12">59</text>
<text x="394.15999999999997" y="413.8" font-size="8.6" fill="#b51a45" text-anchor="middle" stroke="#b51a45" stroke-width="0.12">18</text>
<text x="394.15999999999997" y="426.59999999999997" font-size="8.6" fill="#33548f" text-anchor="middle" stroke="#33548f" stroke-width="0.12">57</text>
<text x="413.4" y="413.8" font-size="8.6" fill="#b51a45" text-anchor="middle" stroke="#b51a45" stroke-width="0.12">16</text>
<text x="413.4" y="426.59999999999997" font-size="8.6" fill="#33548f" text-anchor="middle" stroke="#33548f" stroke-width="0.12">57</text>
<text x="432.64" y="413.8" font-size="8.6" fill="#b51a45" text-anchor="middle" stroke="#b51a45" stroke-width="0.12">13</text>
<text x="432.64" y="426.59999999999997" font-size="8.6" fill="#33548f" text-anchor="middle" stroke="#33548f" stroke-width="0.12">52</text>
<text x="451.87999999999994" y="413.8" font-size="8.6" fill="#b51a45" text-anchor="middle" stroke="#b51a45" stroke-width="0.12">11</text>
<text x="451.87999999999994" y="426.59999999999997" font-size="8.6" fill="#33548f" text-anchor="middle" stroke="#33548f" stroke-width="0.12">44</text>
<text x="471.11999999999995" y="413.8" font-size="8.6" fill="#b51a45" text-anchor="middle" stroke="#b51a45" stroke-width="0.12">9</text>
<text x="471.11999999999995" y="426.59999999999997" font-size="8.6" fill="#33548f" text-anchor="middle" stroke="#33548f" stroke-width="0.12">38</text>
<text x="490.35999999999996" y="413.8" font-size="8.6" fill="#b51a45" text-anchor="middle" stroke="#b51a45" stroke-width="0.12">7</text>
<text x="490.35999999999996" y="426.59999999999997" font-size="8.6" fill="#33548f" text-anchor="middle" stroke="#33548f" stroke-width="0.12">33</text>
<text x="509.59999999999997" y="413.8" font-size="8.6" fill="#b51a45" text-anchor="middle" stroke="#b51a45" stroke-width="0.12">0</text>
<text x="509.59999999999997" y="426.59999999999997" font-size="8.6" fill="#33548f" text-anchor="middle" stroke="#33548f" stroke-width="0.12">0</text>
<rect x="0" y="0" width="520" height="1.1" fill="#000"/>
<rect x="0" y="0" width="1.2" height="436" fill="#000"/>
<rect x="518.6" y="0" width="1.4" height="436" fill="#000"/>
<rect x="0" y="434.5" width="520" height="1.5" fill="#000"/>
</svg>
</body></html>
